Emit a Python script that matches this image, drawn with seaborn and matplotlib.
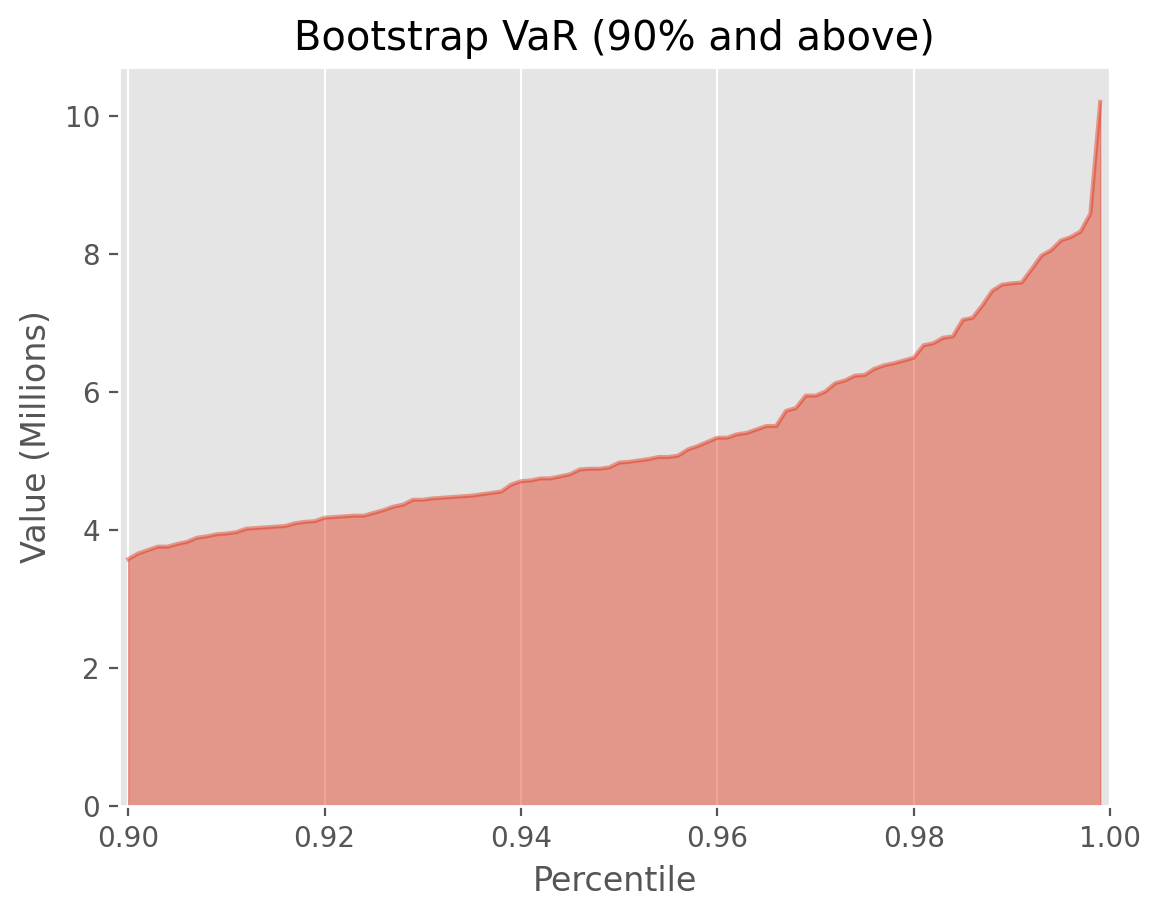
import numpy as np
import pandas as pd
import matplotlib
matplotlib.use("Agg")
import matplotlib.pyplot as plt
import seaborn as sns

percentiles = [round(0.900 + 0.001 * i, 3) for i in range(100)]
values = [
    3.58, 3.66, 3.71, 3.76, 3.76, 3.80, 3.83, 3.89, 3.91, 3.94,
    3.95, 3.97, 4.02, 4.03, 4.04, 4.05, 4.06, 4.10, 4.12, 4.13,
    4.18, 4.19, 4.20, 4.21, 4.21, 4.25, 4.29, 4.34, 4.37, 4.44,
    4.44, 4.46, 4.47, 4.48, 4.49, 4.50, 4.52, 4.54, 4.56, 4.66,
    4.71, 4.72, 4.75, 4.75, 4.78, 4.81, 4.88, 4.89, 4.89, 4.91,
    4.98, 4.99, 5.01, 5.03, 5.06, 5.06, 5.08, 5.17, 5.22, 5.28,
    5.34, 5.34, 5.39, 5.41, 5.46, 5.51, 5.51, 5.73, 5.77, 5.95,
    5.95, 6.01, 6.13, 6.17, 6.24, 6.25, 6.34, 6.39, 6.42, 6.46,
    6.50, 6.68, 6.71, 6.79, 6.81, 7.05, 7.08, 7.26, 7.47, 7.56,
    7.58, 7.59, 7.78, 7.98, 8.06, 8.20, 8.25, 8.33, 8.59, 10.21,
]

df = pd.DataFrame({"Percentile": percentiles, "Value": values})

plt.style.use("ggplot")
fig, ax = plt.subplots(figsize=(5.805, 4.59), dpi=200)
fig.subplots_adjust(left=0.1028, right=0.9561, top=0.9273, bottom=0.122)

color = "#E24A33"
sns.lineplot(data=df, x="Percentile", y="Value", ax=ax, color=color, alpha=0.5, linewidth=1.5)
ax.fill_between(df["Percentile"], df["Value"], color=color, alpha=0.5)

ax.set_xlim(0.8991, 1.0)
ax.set_ylim(0, None)
ax.grid(axis="y", visible=False)
ax.set_xticks([0.90, 0.92, 0.94, 0.96, 0.98, 1.00])
ax.set_title("Bootstrap VaR (90% and above)")
ax.set_xlabel("Percentile")
ax.set_ylabel("Value (Millions)")

fig.savefig("out.png", dpi=200)
